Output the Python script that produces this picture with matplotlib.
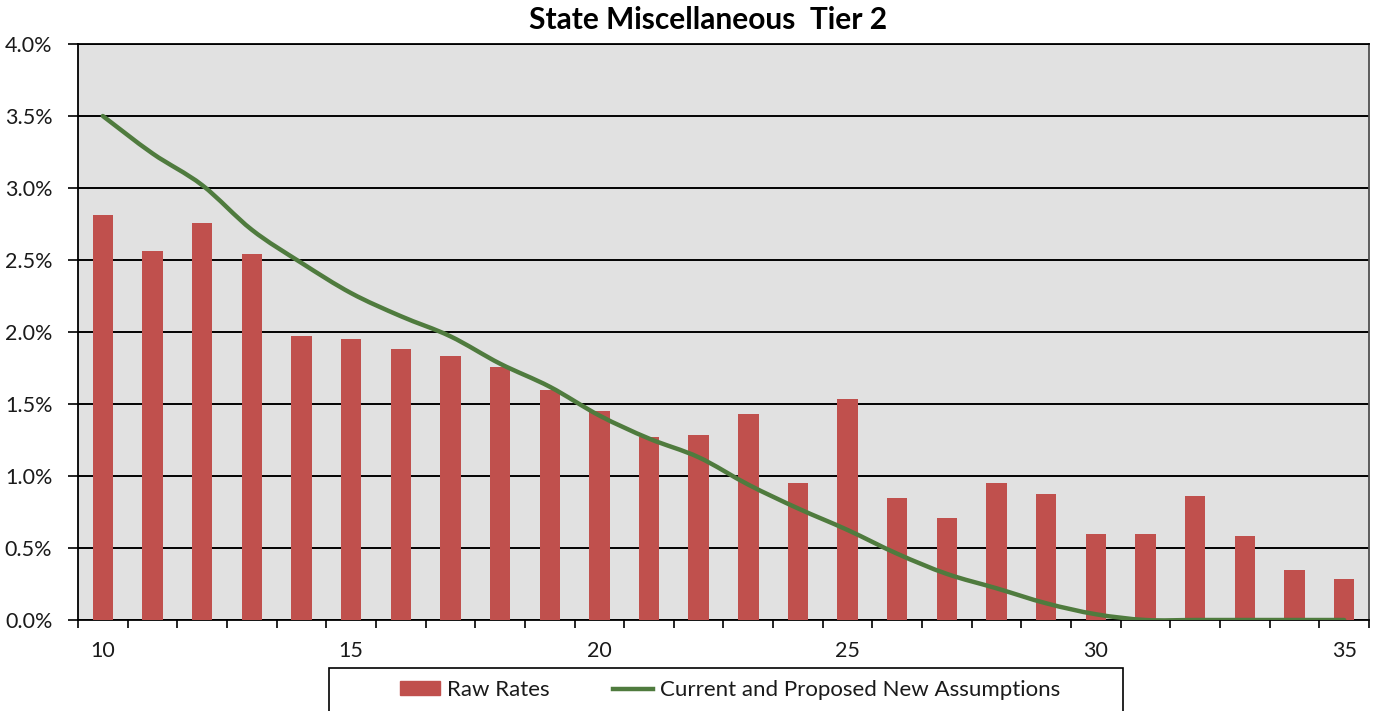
import matplotlib
matplotlib.use("Agg")
import matplotlib.pyplot as plt
from matplotlib.path import Path
from matplotlib.patches import PathPatch, Rectangle
from matplotlib.lines import Line2D
from matplotlib.ticker import FuncFormatter, FixedLocator
import numpy as np

plt.rcParams['font.family'] = ['Lato', 'DejaVu Sans']

# ---- data ----
years = list(range(10, 36))
raw_rates = [2.81, 2.565, 2.76, 2.54, 1.97, 1.95, 1.885, 1.833, 1.755, 1.60,
             1.454, 1.27, 1.287, 1.43, 0.954, 1.537, 0.847, 0.706, 0.954, 0.877,
             0.60, 0.60, 0.859, 0.585, 0.35, 0.285]
assumptions = [3.50, 3.24, 3.02, 2.71, 2.48, 2.27, 2.11, 1.97, 1.78, 1.62,
               1.42, 1.26, 1.13, 0.94, 0.775, 0.625, 0.46, 0.32, 0.22, 0.116,
               0.04, 0.0, 0.0, 0.0, 0.0, 0.0]
x_labels = [10, 15, 20, 25, 30, 35]
y_ticks = [0.0, 0.5, 1.0, 1.5, 2.0, 2.5, 3.0, 3.5, 4.0]
title = "State Miscellaneous  Tier 2"
bar_label = "Raw Rates"
line_label = "Current and Proposed New Assumptions"

W, H = 1375, 711
fig = plt.figure(figsize=(W / 100, H / 100), dpi=100)
L, R, T, B = 78, 1369, 44, 620
ax = fig.add_axes([L / W, 1 - B / H, (R - L) / W, (B - T) / H])

bar_color = '#C0504D'
line_color = '#4F7B3E'
ax.set_facecolor('#E1E1E1')

ax.bar(years, raw_rates, width=0.41, color=bar_color, zorder=3)

# smoothed line (Catmull-Rom -> cubic Bezier) in data coordinates
pts = np.column_stack([years, assumptions]).astype(float)
verts = [tuple(pts[0])]
codes = [Path.MOVETO]
n = len(pts)
for i in range(n - 1):
    p0 = pts[i - 1] if i > 0 else pts[i]
    p1 = pts[i]
    p2 = pts[i + 1]
    p3 = pts[i + 2] if i + 2 < n else pts[i + 1]
    c1 = p1 + (p2 - p0) / 6.0
    c2 = p2 - (p3 - p1) / 6.0
    verts += [tuple(c1), tuple(c2), tuple(p2)]
    codes += [Path.CURVE4] * 3
ax.add_patch(PathPatch(Path(verts, codes), fill=False, edgecolor=line_color,
                       lw=3.2, zorder=4, capstyle='round', joinstyle='round'))

ax.set_xlim(years[0] - 0.5, years[-1] + 0.5)
ax.set_ylim(0, 4.0)

ax.yaxis.set_major_locator(FixedLocator(y_ticks))
ax.yaxis.set_major_formatter(FuncFormatter(lambda v, p: f"{v:.1f}%"))
ax.grid(axis='y', color='black', lw=1.4, zorder=1)
ax.grid(axis='x', visible=False)
ax.tick_params(axis='y', direction='out', length=7.5, width=1.2, pad=11,
               labelsize=15.5, labelcolor='#1a1a1a')

ax.xaxis.set_major_locator(FixedLocator(x_labels))
ax.xaxis.set_minor_locator(FixedLocator([y - 0.5 for y in years] + [years[-1] + 0.5]))
ax.tick_params(axis='x', which='major', length=0, pad=15, labelsize=15.5,
               labelcolor='#1a1a1a')
ax.tick_params(axis='x', which='minor', direction='out', length=5.5, width=1.2)

for s in ['left', 'bottom', 'top']:
    ax.spines[s].set_color('black')
    ax.spines[s].set_linewidth(1.3)
ax.spines['right'].set_color('#505050')
ax.spines['right'].set_linewidth(1.3)

fig.text(708 / W, 1 - 20 / H, title, ha='center', va='center',
         fontsize=21.5, fontweight='bold', color='black')

# legend box
fig.add_artist(Rectangle((329 / W, -0.02), (1123 - 329) / W, 0.02 + 1 - 668 / H,
                         transform=fig.transFigure, fill=False, ec='black',
                         lw=1.2, clip_on=False))
handles = [Rectangle((0, 0), 1, 1, color=bar_color),
           Line2D([0], [0], color=line_color, lw=3.2)]
leg = fig.legend(handles, [bar_label, line_label], ncol=2,
                 loc='center', bbox_to_anchor=(730 / W, 1 - 690 / H),
                 frameon=False, fontsize=16, handlelength=1.8,
                 handletextpad=0.3, columnspacing=2.85, handleheight=0.6)
for t in leg.get_texts():
    t.set_color('#1a1a1a')

fig.savefig('out.png', dpi=100)
